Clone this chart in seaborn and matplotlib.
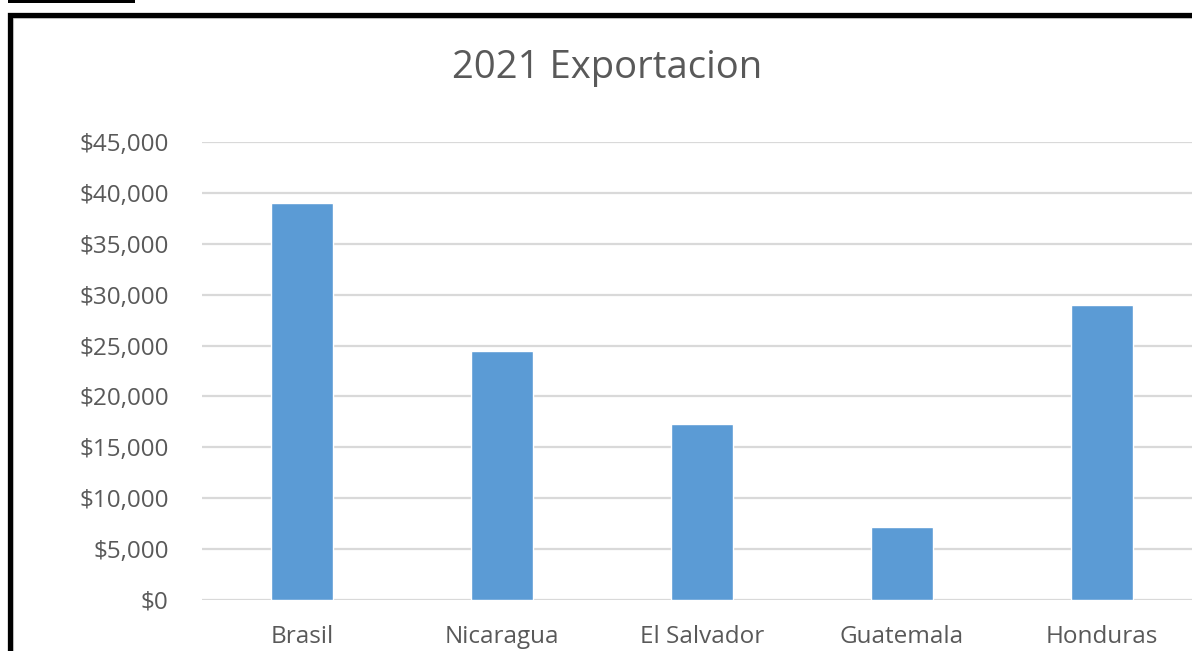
import matplotlib
matplotlib.use("Agg")
import matplotlib.pyplot as plt
from matplotlib.patches import Rectangle
from matplotlib.ticker import FuncFormatter, MultipleLocator
import seaborn as sns
import pandas as pd

# Export values for 2021 by country
countries = ["Brasil", "Nicaragua", "El Salvador", "Guatemala", "Honduras"]
exports = [39000, 24500, 17300, 7200, 29000]
title_text = "2021 Exportacion"

df = pd.DataFrame({"country": countries, "value": exports})

sns.set_theme(style="white")
plt.rcParams["font.family"] = ["Open Sans", "DejaVu Sans"]

W, H = 1192, 651
fig = plt.figure(figsize=(W / 100, H / 100), dpi=100)
fig.patch.set_facecolor("white")

# plot area in pixel terms: x 202..1202, y 142..600
ax = fig.add_axes([202 / W, 1 - 600 / H, 1000 / W, (600 - 142) / H])
sns.barplot(data=df, x="country", y="value", color="#5B9BD5", saturation=1,
            width=0.31, ax=ax, zorder=3)

ax.set_ylim(0, 45000)
ax.set_xlim(-0.5, 4.5)
ax.yaxis.set_major_locator(MultipleLocator(5000))
ax.yaxis.set_major_formatter(FuncFormatter(lambda v, _: f"${v:,.0f}"))
ax.set_xlabel("")
ax.set_ylabel("")
ax.grid(axis="y", color="#D9D9D9", linewidth=1.6, zorder=0)
ax.grid(axis="x", visible=False)
for s in ax.spines.values():
    s.set_visible(False)
ax.tick_params(axis="both", length=0, labelsize=17.5, labelcolor="#595959")
ax.tick_params(axis="y", pad=24)
ax.tick_params(axis="x", pad=18)

fig.text(607 / W, 1 - 68 / H, title_text, ha="center", va="center",
         fontsize=27.5, color="#595959")

# chart frame: black outer border with a faint grey inner edge
fig.patches.append(Rectangle((13 / W, -0.1), 1.2, 1 - 18 / H + 0.1,
                             transform=fig.transFigure, fill=False,
                             edgecolor="#D9D9D9", linewidth=1.5))
fig.patches.append(Rectangle((9.5 / W, -0.1), 1.2, 1 - 14.5 / H + 0.1,
                             transform=fig.transFigure, fill=False,
                             edgecolor="black", linewidth=3.8))
fig.patches.append(Rectangle((8 / W, 1 - 3 / H), 127 / W, 3 / H,
                             transform=fig.transFigure, facecolor="black",
                             edgecolor="none"))

fig.savefig("out.png", dpi=100, facecolor="white")
